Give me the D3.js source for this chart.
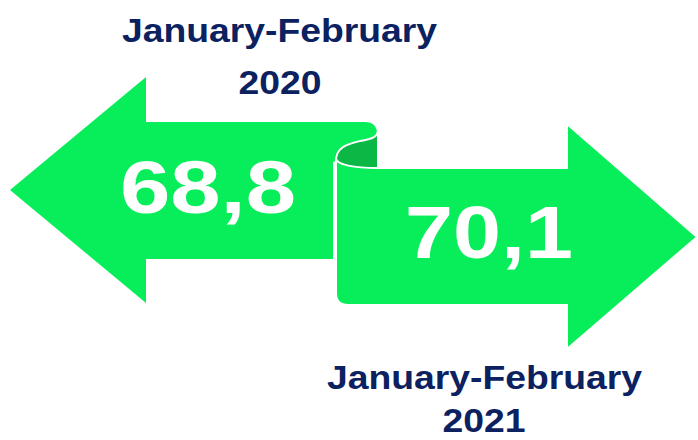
<!DOCTYPE html>
<html>
<head>
<meta charset="utf-8">
<script src="https://cdn.jsdelivr.net/npm/d3@7"></script>
<style>
  html, body { margin: 0; padding: 0; background: #ffffff; }
  svg { display: block; }
</style>
</head>
<body>
<svg id="chart" width="698" height="440"></svg>
<script>
// ---- data ----
const periods = ["January-February", "January-February"];
const years = ["2020", "2021"];
const values = [68.8, 70.1];

// ---- style ----
const lightGreen = "#08ee5a";
const darkGreen = "#0bb845";
const navy = "#0b2160";
const fmt = v => d3.format(".1f")(v).replace(".", ",");

const svg = d3.select("#chart");

// horizontal placement of the two arrows via a point scale
const xPos = d3.scalePoint().domain(years).range([0, 1]);

// Left arrow (with scroll curl at its shaft end)
const left = d3.path();
left.moveTo(10, 190);
left.lineTo(146, 77);
left.lineTo(146, 122);
left.lineTo(365, 122);
left.quadraticCurveTo(377, 122, 377, 134);
left.lineTo(377, 150);
left.lineTo(333, 162);
left.lineTo(333, 259);
left.lineTo(146, 259);
left.lineTo(146, 303);
left.closePath();
svg.append("path").attr("d", left.toString()).attr("fill", lightGreen);

// inner dark part of the roll
const roll = d3.path();
roll.moveTo(335, 158);
roll.bezierCurveTo(335, 147, 348, 144, 360, 141);
roll.bezierCurveTo(372, 139, 377, 137, 377, 133);
roll.lineTo(377, 168);
roll.bezierCurveTo(355, 168, 336, 166, 335, 158);
roll.closePath();
svg.append("path").attr("d", roll.toString()).attr("fill", darkGreen);

// Right arrow
const right = d3.path();
right.moveTo(336, 158);
right.bezierCurveTo(336, 165, 355, 168, 377, 168);
right.lineTo(567, 168);
right.lineTo(567, 124);
right.lineTo(697, 237);
right.lineTo(567, 349);
right.lineTo(567, 305);
right.lineTo(348, 305);
right.quadraticCurveTo(336, 305, 336, 293);
right.closePath();
svg.append("path").attr("d", right.toString())
  .attr("fill", lightGreen).attr("stroke", "#ffffff").attr("stroke-width", 2);

// white edge at top of roll
const edge = d3.path();
edge.moveTo(336, 162);
edge.bezierCurveTo(335, 147, 348, 144, 360, 141);
edge.bezierCurveTo(372, 139, 377, 137, 377.5, 132);
svg.append("path").attr("d", edge.toString())
  .attr("fill", "none").attr("stroke", "#ffffff").attr("stroke-width", 2);

// ---- text ----
const layout = [
  { titleX: 122, titleY: 42, yearX: 280, yearY: 94, numX: 120, numY: 213, numW: 176 },
  { titleX: 327, titleY: 389, yearX: 484, yearY: 432, numX: 405, numY: 258, numW: 168 }
];

years.forEach((yr, i) => {
  const L = layout[Math.round(xPos(yr))];
  svg.append("text")
    .attr("x", L.titleX).attr("y", L.titleY)
    .attr("font-family", "Liberation Sans, Arial, sans-serif")
    .attr("font-weight", "bold").attr("font-size", 34)
    .attr("fill", navy)
    .attr("textLength", 315).attr("lengthAdjust", "spacingAndGlyphs")
    .text(periods[i]);
  svg.append("text")
    .attr("x", L.yearX).attr("y", L.yearY)
    .attr("text-anchor", "middle")
    .attr("font-family", "Liberation Sans, Arial, sans-serif")
    .attr("font-weight", "bold").attr("font-size", 34)
    .attr("fill", navy)
    .attr("textLength", 83).attr("lengthAdjust", "spacingAndGlyphs")
    .text(yr);
  svg.append("text")
    .attr("x", L.numX).attr("y", L.numY)
    .attr("font-family", "Liberation Sans, Arial, sans-serif")
    .attr("font-weight", "bold").attr("font-size", 75)
    .attr("fill", "#ffffff")
    .attr("textLength", L.numW).attr("lengthAdjust", "spacingAndGlyphs")
    .text(fmt(values[i]));
});
</script>
</body>
</html>
